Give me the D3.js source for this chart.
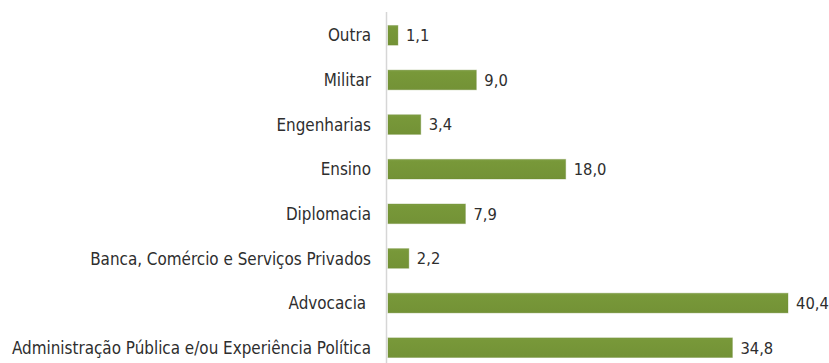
<!DOCTYPE html>
<html>
<head>
<meta charset="utf-8">
<script src="https://cdn.jsdelivr.net/npm/d3@7"></script>
<style>
  html, body { margin: 0; padding: 0; background: #fff; }
  svg { display: block; }
  text { font-family: "DejaVu Sans Condensed", "DejaVu Sans", sans-serif; fill: #2e2e2e; }
</style>
</head>
<body>
<svg id="chart" width="829" height="363"></svg>
<script>
// Área de formação / experiência profissional (%)
const categories = [
  "Outra",
  "Militar",
  "Engenharias",
  "Ensino",
  "Diplomacia",
  "Banca, Comércio e Serviços Privados",
  "Advocacia ",
  "Administração Pública e/ou Experiência Política"
];
const values = [1.1, 9.0, 3.4, 18.0, 7.9, 2.2, 40.4, 34.8];
const valueLabels = ["1,1", "9,0", "3,4", "18,0", "7,9", "2,2", "40,4", "34,8"];

const svg = d3.select("#chart");
const W = 829, H = 363;
const x0 = 387;
const labelSize = 16.9;
const valueSize = 16.4;

const x = d3.scaleLinear().domain([0, 40.4]).range([x0, 788]);
const y = d3.scaleBand().domain(categories).range([13, 370]).paddingInner(0.56).paddingOuter(0.28);

const defs = svg.append("defs");
const grad = defs.append("linearGradient").attr("id", "barFill").attr("x1", 0).attr("y1", 0).attr("x2", 0).attr("y2", 1);
grad.append("stop").attr("offset", "0%").attr("stop-color", "#7f9f43");
grad.append("stop").attr("offset", "12%").attr("stop-color", "#789839");
grad.append("stop").attr("offset", "100%").attr("stop-color", "#739236");

// vertical axis line
svg.append("line")
  .attr("x1", x0 - 0.5).attr("x2", x0 - 0.5)
  .attr("y1", 12).attr("y2", H)
  .attr("stroke", "#d6d6d6").attr("stroke-width", 1.5);

const rows = svg.append("g").selectAll("g").data(categories).join("g");

rows.append("rect")
  .attr("x", x(0) + 1)
  .attr("y", d => y(d))
  .attr("width", (d, i) => x(values[i]) - x(0) - 1)
  .attr("height", y.bandwidth())
  .attr("fill", "url(#barFill)")
  .attr("stroke", "#6c8a33")
  .attr("stroke-opacity", 0.35)
  .attr("stroke-width", 1);

// category labels
rows.append("text")
  .attr("x", 371)
  .attr("y", d => y(d) + y.bandwidth() / 2)
  .attr("dy", "0.36em")
  .attr("text-anchor", "end")
  .style("white-space", "pre")
  .attr("font-size", labelSize)
  .text(d => d);

// value labels
rows.append("text")
  .attr("x", (d, i) => x(values[i]) + 8)
  .attr("y", d => y(d) + y.bandwidth() / 2)
  .attr("dy", "0.36em")
  .attr("font-size", valueSize)
  .text((d, i) => valueLabels[i]);
</script>
</body>
</html>
